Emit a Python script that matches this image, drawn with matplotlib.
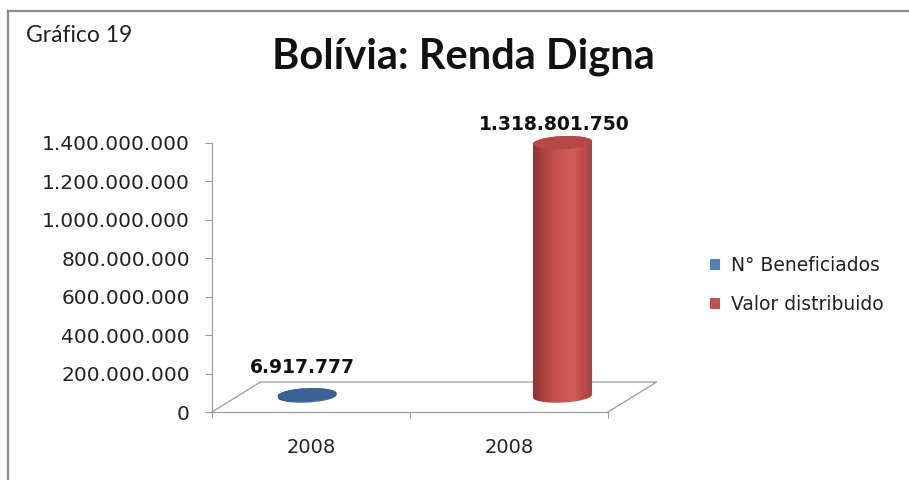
import matplotlib
matplotlib.use('Agg')
import matplotlib.pyplot as plt
import numpy as np
from matplotlib.patches import Polygon, Patch
from matplotlib.lines import Line2D
from matplotlib.colors import LinearSegmentedColormap
from matplotlib.ticker import FuncFormatter

# Data
categories = ['2008', '2008']
series = ['N° Beneficiados', 'Valor distribuido']
values = [6917777, 1318801750]
yticks = [0, 200e6, 400e6, 600e6, 800e6, 1000e6, 1200e6, 1400e6]

# Styles
legend_colors = ['#4f81bd', '#c0504d']
body_colors = [['#2f5482', '#41699b', '#4a74a8', '#335a8a'],
               ['#8e3432', '#c24f4c', '#d45b58', '#a2403e']]
top_colors = ['#3b6496', '#b44946']
axis_gray = '#9a9a9a'

# 3D-ish geometry (data units)
bar_x = [0.48, 1.77]           # cylinder centres (perspective shifted)
base_y = 8.3e7                 # depth offset of cylinder base
half_w = 0.149
half_h = 3.4e7
tilt = 0.7e7
depth_dx, depth_dy = 0.245, 1.56e8

W, H = 909, 480
fig = plt.figure(figsize=(W / 100, H / 100), dpi=100)
x0, y0 = 212, 412
px_x = 198.0
px_y = 269.0 / 1.4e9
xmax, ymax = 2.3, 1.6e9
ax = fig.add_axes([x0 / W, (H - y0) / H, xmax * px_x / W, ymax * px_y / H])
ax.set_xlim(0, xmax)
ax.set_ylim(0, ymax)
ax.patch.set_alpha(0)

# Frame
fig.add_artist(Line2D([8 / W, 8 / W], [0, 1 - 11 / H], color='#8c8c8c', lw=1.6))
fig.add_artist(Line2D([8 / W, 1], [1 - 11 / H, 1 - 11 / H], color='#8c8c8c', lw=1.6))

# Floor
floor_x = [0, depth_dx, 2 + depth_dx, 2]
floor_y = [0, depth_dy, depth_dy, 0]
ax.plot(floor_x, floor_y, color=axis_gray, lw=0.9, clip_on=False)


def ellipse(cx, cy, t):
    return cx + half_w * np.cos(t), cy + half_h * np.sin(t) + tilt * np.cos(t)


for i, v in enumerate(values):
    cx = bar_x[i]
    top = base_y + v
    tb = np.linspace(np.pi, 2 * np.pi, 60)
    tt = np.linspace(0, np.pi, 60)
    bx, by = ellipse(cx, base_y, tb)
    tx, ty = ellipse(cx, top, tt)
    body = Polygon(np.column_stack([np.r_[bx, tx], np.r_[by, ty]]),
                   closed=True, facecolor='none', edgecolor='none')
    ax.add_patch(body)
    cmap = LinearSegmentedColormap.from_list('b%d' % i, body_colors[i])
    grad = np.linspace(0, 1, 200)[None, :]
    im = ax.imshow(grad, extent=[cx - half_w, cx + half_w, base_y - 2 * half_h, top + 2 * half_h],
                   aspect='auto', cmap=cmap, zorder=2, interpolation='bilinear')
    im.set_clip_path(body)
    ex, ey = ellipse(cx, top, np.linspace(0, 2 * np.pi, 120))
    ax.fill(ex, ey, color=top_colors[i], zorder=3, lw=0)

# Data labels
label_offsets = [(-3, 13), (-6, 6)]
for i, v in enumerate(values):
    ax.annotate(f'{v:,}'.replace(',', '.'), (bar_x[i], base_y + v),
                xytext=label_offsets[i], textcoords='offset points',
                ha='center', va='bottom', fontsize=13.5, fontweight='bold',
                color='#111111', annotation_clip=False)

ax.set_xlim(0, xmax)
ax.set_ylim(0, ymax)

# Axes
for s in ['top', 'right']:
    ax.spines[s].set_visible(False)
ax.spines['left'].set_bounds(0, 1.4e9)
ax.spines['bottom'].set_bounds(0, 2)
ax.spines['left'].set_color(axis_gray)
ax.spines['bottom'].set_color(axis_gray)
ax.set_yticks(yticks)
ax.yaxis.set_major_formatter(FuncFormatter(lambda v, p: f'{int(v):,}'.replace(',', '.')))
ax.tick_params(axis='y', length=5, color=axis_gray, labelsize=14.5, labelcolor='#222222', pad=11)
ax.set_xticks([0, 1, 2])
ax.set_xticklabels([])
ax.set_xticks([0.5, 1.5], minor=True)
ax.set_xticklabels(categories, minor=True)
ax.tick_params(axis='x', which='major', length=4, color=axis_gray)
ax.tick_params(axis='x', which='minor', length=0, labelsize=14, labelcolor='#222222', pad=19)

# Titles
fig.text(463 / W, 1 - 57 / H, 'Bolívia: Renda Digna', family='Lato', fontweight='bold',
         fontsize=30, ha='center', va='center', color='#111111')
fig.text(26 / W, 1 - 36 / H, 'Gráfico 19', family='Lato', fontsize=16.5,
         ha='left', va='center', color='#222222')

# Legend
handles = [Patch(facecolor=c, edgecolor='none') for c in legend_colors]
fig.legend(handles, series, loc='center left', bbox_to_anchor=(693 / W, 1 - 285 / H),
           frameon=False, fontsize=13.5, handlelength=0.55, handleheight=0.55,
           handletextpad=0.6, labelspacing=1.05, labelcolor='#222222')

fig.savefig('out.png', dpi=100)
